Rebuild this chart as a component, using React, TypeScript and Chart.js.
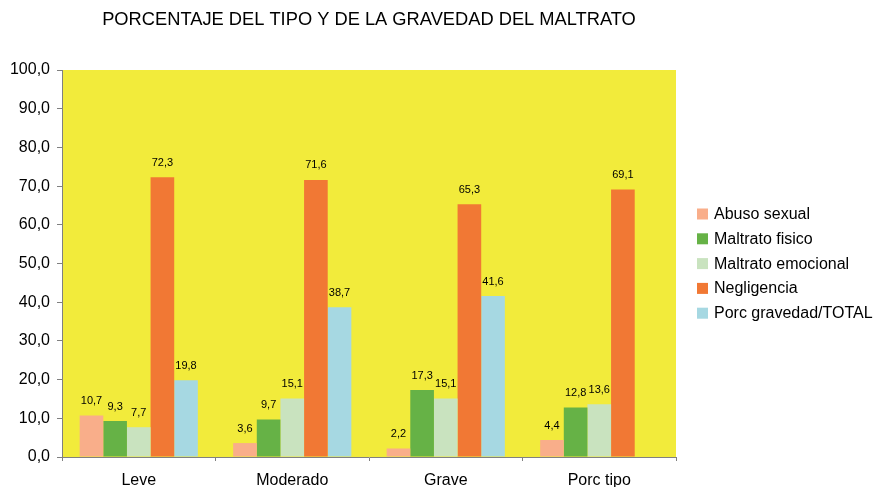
import React, { useEffect, useRef } from "react";
import { Chart, registerables } from "chart.js";

Chart.register(...registerables);

const TITLE = "PORCENTAJE DEL TIPO Y DE LA GRAVEDAD DEL MALTRATO";
const categories = ["Leve", "Moderado", "Grave", "Porc tipo"];
const seriesNames = [
  "Abuso sexual",
  "Maltrato fisico",
  "Maltrato emocional",
  "Negligencia",
  "Porc gravedad/TOTAL",
];
const abusoSexual = [10.7, 3.6, 2.2, 4.4];
const maltratoFisico = [9.3, 9.7, 17.3, 12.8];
const maltratoEmocional = [7.7, 15.1, 15.1, 13.6];
const negligencia = [72.3, 71.6, 65.3, 69.1];
const porcGravedad = [19.8, 38.7, 41.6, null];
const seriesColors = ["#F9AE8A", "#66B246", "#C9E3BF", "#F17834", "#A6D8E2"];

const FONT = "'Liberation Sans', Arial, sans-serif";
const fmt = (v: number) => v.toFixed(1).replace(".", ",");

const decorPlugin = {
  id: "decor",
  beforeDraw(chart: any) {
    const { ctx, chartArea } = chart;
    ctx.save();
    ctx.fillStyle = "#F2EB3B";
    ctx.fillRect(chartArea.left, chartArea.top, chartArea.right - chartArea.left, chartArea.bottom - chartArea.top);
    ctx.restore();
  },
  afterDraw(chart: any) {
    const { ctx, chartArea } = chart;
    ctx.save();
    // title
    ctx.fillStyle = "#000";
    ctx.font = `18.3px ${FONT}`;
    ctx.textAlign = "center";
    ctx.textBaseline = "middle";
    ctx.fillText(TITLE, (chartArea.left + chartArea.right) / 2, 20);

    // value labels
    ctx.font = `11px ${FONT}`;
    ctx.textBaseline = "bottom";
    chart.data.datasets.forEach((ds: any, i: number) => {
      const meta = chart.getDatasetMeta(i);
      meta.data.forEach((bar: any, j: number) => {
        const v = ds.data[j];
        if (v === null || v === undefined) return;
        ctx.fillText(fmt(v), bar.x, bar.y - 9);
      });
    });

    // legend
    ctx.font = `16px ${FONT}`;
    ctx.textAlign = "left";
    ctx.textBaseline = "middle";
    const x0 = chartArea.right + 21;
    const yStart = 214;
    const step = 24.8;
    seriesNames.forEach((name, i) => {
      const y = yStart + i * step;
      ctx.fillStyle = seriesColors[i];
      ctx.fillRect(x0, y - 5.5, 11, 11);
      ctx.fillStyle = "#000";
      ctx.fillText(name, x0 + 17, y + 0.5);
    });
    ctx.restore();
  },
};

export default function App() {
  const ref = useRef<HTMLCanvasElement>(null);

  useEffect(() => {
    document.body.style.margin = "0";
    const values = [abusoSexual, maltratoFisico, maltratoEmocional, negligencia, porcGravedad];
    const chart = new Chart(ref.current!, {
      type: "bar",
      data: {
        labels: categories,
        datasets: seriesNames.map((name, i) => ({
          label: name,
          data: values[i],
          backgroundColor: seriesColors[i],
          borderWidth: 0,
          categoryPercentage: 0.77,
          barPercentage: 1,
        })),
      },
      options: {
        animation: false,
        responsive: false,
        devicePixelRatio: 1,
        layout: { padding: { top: 70, right: 199, bottom: 0, left: 0 } },
        plugins: {
          legend: { display: false },
          title: { display: false },
          tooltip: { enabled: false },
        },
        scales: {
          x: {
            offset: true,
            grid: {
              offset: true,
              drawOnChartArea: false,
              drawTicks: true,
              tickLength: 4,
              color: "#808080",
            },
            border: { color: "#808080", width: 1 },
            ticks: { color: "#000", font: { family: FONT, size: 16 }, padding: 10 },
            afterFit(scale: any) {
              scale.height = 30;
            },
          },
          y: {
            min: 0,
            max: 100,
            ticks: {
              stepSize: 10,
              color: "#000",
              font: { family: FONT, size: 16 },
              padding: 7,
              callback: (v: any) => fmt(Number(v)),
            },
            grid: {
              drawOnChartArea: false,
              drawTicks: true,
              tickLength: 5,
              color: "#808080",
            },
            border: { color: "#808080", width: 1 },
            afterFit(scale: any) {
              scale.width = 62;
            },
          },
        },
      },
      plugins: [decorPlugin],
    });
    return () => chart.destroy();
  }, []);

  return (
    <div style={{ position: "fixed", left: 0, top: 0, width: 875, height: 487, background: "#fff" }}>
      <canvas ref={ref} width={875} height={487} />
    </div>
  );
}
